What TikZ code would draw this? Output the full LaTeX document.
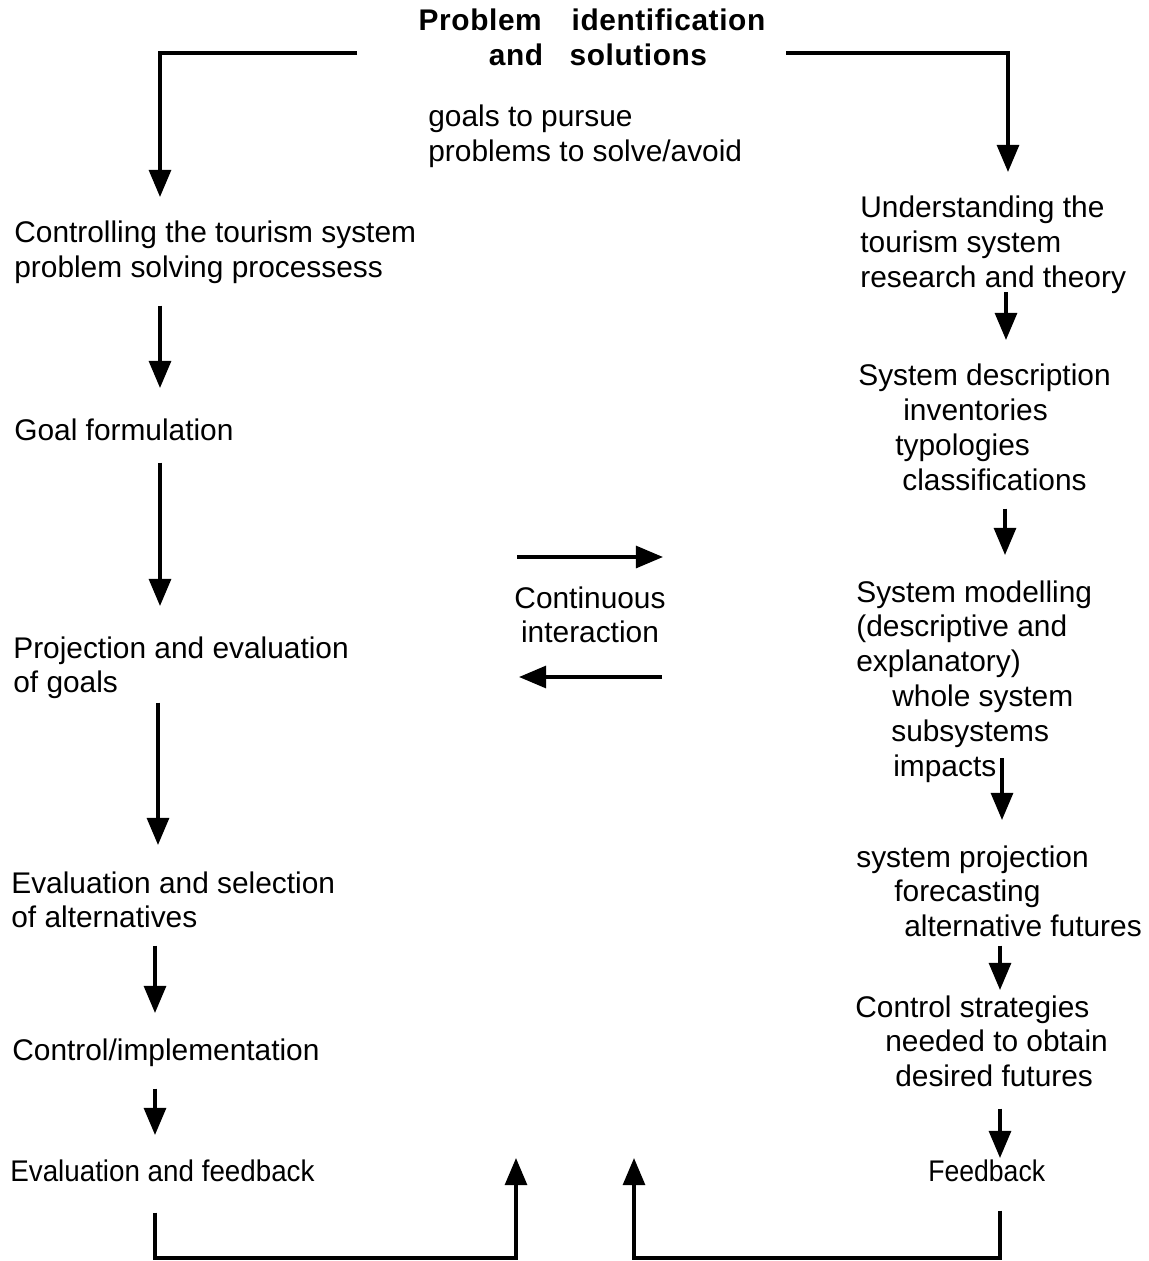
\documentclass[tikz,border=0pt]{standalone}
\usepackage{fontspec}
\setmainfont{Liberation Sans}
\newfontfamily\titlefont[LetterSpace=2]{Liberation Sans}
\newfontfamily\narrowA[FakeStretch=0.93]{Liberation Sans}
\newfontfamily\narrowB[FakeStretch=0.89]{Liberation Sans}
\usetikzlibrary{arrows.meta}
\newlength\pxlen
\setlength\pxlen{0.569pt}
\newcommand\ind[1]{\hspace*{#1\pxlen}}

\begin{document}
\begin{tikzpicture}[x=0.02cm, y=-0.02cm,
  txt/.style={anchor=north west, inner sep=0pt, align=left,
    font=\fontsize{17}{19.9}\selectfont},
  arr/.style={line width=2pt, -{Triangle[length=15.5pt,width=12.5pt]}},
  gaps/.style 2 args={shorten <=#1*0.569pt, shorten >=#2*0.569pt}]

\useasboundingbox[fill=white] (0,0) rectangle (1149,1261);

% column guides for the vertical arrows
\coordinate (L1) at (160,0);
\coordinate (L2) at (158,0);
\coordinate (L3) at (155,0);
\coordinate (R0) at (1008,0);
\coordinate (R1) at (1006,0);
\coordinate (R2) at (1005,0);
\coordinate (R3) at (1002,0);
\coordinate (R4) at (1000,0);
\coordinate (base) at (0,1258);

% heading
\node[txt, anchor=north, align=center,
  font=\titlefont\bfseries\fontsize{17}{19.9}\selectfont] (title) at (592,9)
  {Problem\hspace{17pt}identification\\\ind{12}and\hspace{15pt}solutions};
\node[txt] (goals) at (428,105) {goals to pursue\\problems to solve/avoid};
\coordinate (tl) at (357,53);
\coordinate (tr) at (786,53);

% left column: controlling the system
\node[txt] (ctrl) at (14,221) {Controlling the tourism system\\problem solving processess};
\node[txt] (goal) at (14,419) {Goal formulation};
\node[txt] (proj) at (13,636) {Projection and evaluation\\of goals};
\node[txt] (evsel) at (11,871) {Evaluation and selection\\of alternatives};
\node[txt] (impl) at (12,1038) {Control/implementation};
\node[txt, font=\narrowA\fontsize{17}{19.9}\selectfont] (evfb) at (10,1159) {Evaluation and feedback};

% right column: understanding the system
\node[txt] (und) at (860,196) {Understanding the\\tourism system\\research and theory};
\node[txt] (desc) at (858,364) {System description\\\ind{45}inventories\\\ind{37}typologies\\\ind{44}classifications};
\node[txt] (model) at (856,580) {System modelling\\(descriptive and\\explanatory)\\\ind{36}whole system\\\ind{35}subsystems\\\ind{37}impacts};
\node[txt] (sproj) at (856,845) {system projection\\\ind{38}forecasting\\\ind{48}alternative futures};
\node[txt] (ctrlst) at (855,995) {Control strategies\\\ind{30}needed to obtain\\\ind{40}desired futures};
\node[txt, font=\narrowB\fontsize{17}{19.9}\selectfont] (fb) at (928,1159) {Feedback};

% centre
\node[txt, anchor=north, align=center] (cont) at (590,586) {Continuous\\interaction};
\coordinate (ia) at (517,557);
\coordinate (ib) at (663,557);
\coordinate (ic) at (662,677);
\coordinate (id) at (519,677);
\coordinate (fbL) at (516,1158);
\coordinate (fbR) at (634,1158);

% connectors
\draw[arr, gaps={0}{24}] (tl) -| (ctrl.north -| L1);
\draw[arr, gaps={0}{24}] (tr) -| (und.north -| R0);

\draw[arr, gaps={21}{31}] (ctrl.south -| L1) -- (goal.north -| L1);
\draw[arr, gaps={21}{30}] (goal.south -| L1) -- (proj.north -| L1);
\draw[arr, gaps={3}{26}] (proj.south -| L2) -- (evsel.north -| L2);
\draw[arr, gaps={17}{25}] (evsel.south -| L3) -- (impl.north -| L3);
\draw[arr, gaps={22}{24}] (impl.south -| L3) -- (evfb.north -| L3);

\draw[arr, gaps={-2}{24}] (und.south -| R1) -- (desc.north -| R1);
\draw[arr, gaps={17}{25}] (desc.south -| R2) -- (model.north -| R2);
\draw[arr, gaps={-25}{25}] (model.south -| R3) -- (sproj.north -| R3);
\draw[arr, gaps={8}{5}] (sproj.south -| R4) -- (ctrlst.north -| R4);
\draw[arr, gaps={21}{1}] (ctrlst.south -| R4) -- (fb.north -| R4);

\draw[arr] (ia) -- (ib);
\draw[arr] (ic) -- (id);

\draw[arr, gaps={31}{0}] (evfb.south -| L3) -- (L3 |- base) -| (fbL);
\draw[arr, gaps={29}{0}] (fb.south -| R4) -- (R4 |- base) -| (fbR);

\end{tikzpicture}
\end{document}
